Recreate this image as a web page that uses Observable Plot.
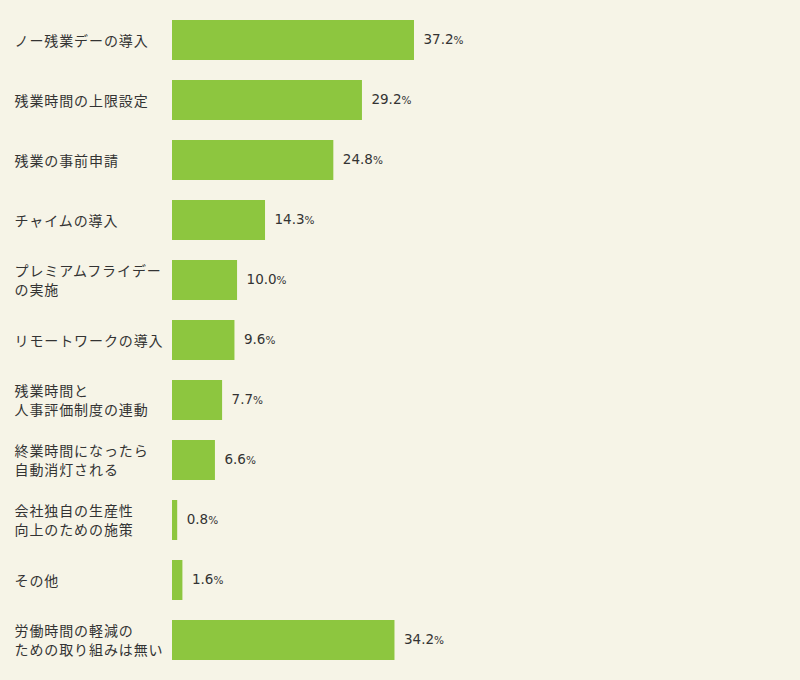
<!DOCTYPE html>
<html><head><meta charset="utf-8">
<script src="https://cdn.jsdelivr.net/npm/d3@7"></script>
<script src="https://cdn.jsdelivr.net/npm/@observablehq/plot@0.6"></script>
<style>
html,body{margin:0;padding:0;background:#f6f4e7;}
#chart svg{display:block;background:#f6f4e7;}
g.clabel text{letter-spacing:0.9px;}
</style>
</head><body><div id="chart"></div>
<script>
const categories = [
  "ノー残業デーの導入",
  "残業時間の上限設定",
  "残業の事前申請",
  "チャイムの導入",
  "プレミアムフライデー\nの実施",
  "リモートワークの導入",
  "残業時間と\n人事評価制度の連動",
  "終業時間になったら\n自動消灯される",
  "会社独自の生産性\n向上のための施策",
  "その他",
  "労働時間の軽減の\nための取り組みは無い"
];
const values = [37.2, 29.2, 24.8, 14.3, 10.0, 9.6, 7.7, 6.6, 0.8, 1.6, 34.2];
const data = categories.map((c, i) => ({category: c, value: values[i]}));

const chart = Plot.plot({
  width: 800,
  height: 680,
  marginTop: 0,
  marginBottom: 0,
  marginLeft: 172,
  marginRight: 367.8,
  style: {background: "#f6f4e7", fontFamily: "'Noto Sans CJK JP', sans-serif"},
  x: {domain: [0, 40], axis: null},
  y: {domain: categories, padding: 1/3, axis: null},
  marks: [
    Plot.barX(data, {x: "value", y: "category", fill: "#8dc63f"}),
    Plot.text(data, {
      y: "category", text: "category", frameAnchor: "left", textAnchor: "start",
      dx: -158, dy: -1, fontSize: 14, lineHeight: 1.36, fill: "#333",
      fontFamily: "'Noto Sans CJK JP', sans-serif", className: "clabel"
    }),
    Plot.text(data, {
      x: "value", y: "category", text: d => d.value.toFixed(1) + "%",
      textAnchor: "start", dx: 9, dy: -1, fontSize: 13.5, fill: "#333",
      fontFamily: "'DejaVu Sans', Verdana, sans-serif", className: "vlabel"
    })
  ]
});
document.getElementById("chart").appendChild(chart);
d3.select(chart).selectAll("g.vlabel text").each(function() {
  const t = d3.select(this);
  const s = t.text();
  if (s.endsWith("%")) {
    t.text(s.slice(0, -1));
    t.append("tspan").attr("font-size", 10.5).text("%");
  }
});
</script>
</body></html>
